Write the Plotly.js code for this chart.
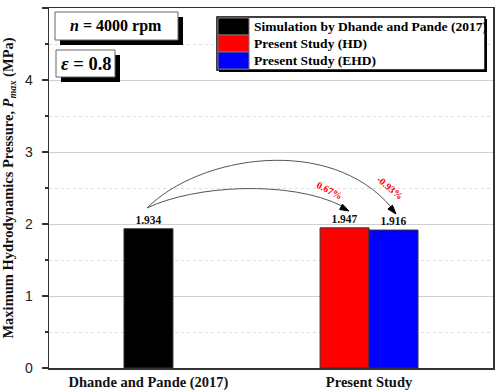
<!DOCTYPE html>
<html><head><meta charset="utf-8">
<script src="https://cdn.plot.ly/plotly-3.0.1.min.js"></script>
<style>html,body{margin:0;padding:0;background:#fff;}#chart{width:503px;height:390px;}</style>
</head><body><div id="chart"></div>
<script>
const categories = ["Dhande and Pande (2017)", "Present Study"];
const seriesNames = ["Simulation by Dhande and Pande (2017)", "Present Study (HD)", "Present Study (EHD)"];
const simValues = [1.934];
const hdValues = [1.947];
const ehdValues = [1.916];
const percentLabels = ["0.67%", "-0.93%"];
const seriesColors = ["#000000", "#ff0000", "#0000ff"];

const M = {l: 49, r: 10, t: 8, b: 22};
const W = 503, H = 390;
const PW = W - M.l - M.r, PH = H - M.t - M.b;
const px = x => (x - M.l) / PW;
const py = y => (H - M.b - y) / PH;

const serif = "Liberation Serif, Times New Roman, serif";
const barW = 0.222;

const traces = [
  {type: 'bar', x: [categories[0]], y: simValues, name: seriesNames[0], width: barW, offset: -barW/2,
   marker: {color: seriesColors[0], line: {color: '#333', width: 1}}},
  {type: 'bar', x: [categories[1]], y: hdValues, name: seriesNames[1], width: barW, offset: -barW,
   marker: {color: seriesColors[1], line: {color: '#333', width: 1}}},
  {type: 'bar', x: [categories[1]], y: ehdValues, name: seriesNames[2], width: barW, offset: 0,
   marker: {color: seriesColors[2], line: {color: '#333', width: 1}}}
].map(t => Object.assign(t, {
  texttemplate: '%{y:.3f}', textposition: 'outside', cliponaxis: false,
  textfont: {family: serif, size: 11.5, color: '#111', weight: 'bold'}, showlegend: false
}));

const shapes = [];
const annotations = [];
function note(x, y, text, font, extra) {
  annotations.push(Object.assign({xref: 'paper', yref: 'paper', x: px(x), y: py(y), xanchor: 'center', yanchor: 'middle',
    showarrow: false, text: text, font: font}, extra || {}));
}

// info boxes with shadows
function shadowBox(x0, y0, x1, y1, off, border) {
  shapes.push({type: 'rect', xref: 'paper', yref: 'paper', x0: px(x0 + off), x1: px(x1 + off), y0: py(y0 + off), y1: py(y1 + off),
    fillcolor: '#000', line: {width: 0}});
  shapes.push({type: 'rect', xref: 'paper', yref: 'paper', x0: px(x0), x1: px(x1), y0: py(y0), y1: py(y1),
    fillcolor: '#fff', line: {color: border, width: 1}});
}
shadowBox(55, 12, 178, 40, 5, '#666');
shadowBox(56, 50, 115, 77, 5, '#666');
note(116, 26, '<i>n</i> = 4000 rpm', {family: serif, size: 16, color: '#000', weight: 'bold'});
note(86, 64, '<i>ε</i> = 0.8', {family: serif, size: 18.5, color: '#000', weight: 'bold'});

// legend
shapes.push({type: 'rect', xref: 'paper', yref: 'paper', x0: px(219), x1: px(487), y0: py(19), y1: py(72),
  fillcolor: '#000', line: {width: 0}});
shapes.push({type: 'rect', xref: 'paper', yref: 'paper', x0: px(217), x1: px(485), y0: py(17), y1: py(70),
  fillcolor: '#fff', line: {color: '#000', width: 1.5}});
const rowTop = [18, 35, 52];
seriesNames.forEach((nm, i) => {
  shapes.push({type: 'rect', xref: 'paper', yref: 'paper', x0: px(218), x1: px(249), y0: py(rowTop[i]), y1: py(rowTop[i] + 17),
    fillcolor: seriesColors[i], line: {color: '#777', width: 1}});
  note(252, rowTop[i] + 8.5, nm, {family: serif, size: 13.5, color: '#000', weight: 'bold'}, {xanchor: 'left'});
});

// curved arrows
function pathStr(pts) {
  const p = pts.map(([x, y]) => px(x) + ',' + py(y));
  return 'M' + p[0] + ' C' + p[1] + ' ' + p[2] + ' ' + p[3];
}
function arrowHead(tip, from) {
  const dx = tip[0] - from[0], dy = tip[1] - from[1], L = Math.hypot(dx, dy);
  const ux = dx / L, uy = dy / L, len = 9, hw = 3;
  const bx = tip[0] - ux * len, by = tip[1] - uy * len;
  const a = [bx - uy * hw, by + ux * hw], b = [bx + uy * hw, by - ux * hw];
  shapes.push({type: 'path', xref: 'paper', yref: 'paper',
    path: 'M' + px(tip[0]) + ',' + py(tip[1]) + ' L' + px(a[0]) + ',' + py(a[1]) + ' L' + px(b[0]) + ',' + py(b[1]) + ' Z',
    fillcolor: '#000', line: {color: '#000', width: 1}});
}
shapes.push({type: 'path', xref: 'paper', yref: 'paper', path: pathStr([[147, 208], [195, 185], [290, 180], [342, 206]]),
  line: {color: '#555', width: 1}});
shapes.push({type: 'path', xref: 'paper', yref: 'paper', path: pathStr([[147, 208], [200, 155], [330, 135], [391, 207]]),
  line: {color: '#555', width: 1}});
arrowHead([349, 211], [290, 180]);
arrowHead([396, 214], [333, 140]);
note(330, 190, percentLabels[0], {family: serif, size: 10, color: '#ff0000', weight: 'bold'}, {textangle: 27});
note(390, 187, percentLabels[1], {family: serif, size: 10, color: '#ff0000', weight: 'bold'}, {textangle: 40});

const layout = {
  width: W, height: H, margin: M, paper_bgcolor: '#fff', plot_bgcolor: '#fff',
  barmode: 'overlay', showlegend: false,
  xaxis: {type: 'category', range: [-0.451, 1.562], showgrid: false, zeroline: false,
    showline: true, linecolor: '#333', linewidth: 1.5, mirror: true, ticks: '',
    tickfont: {family: serif, size: 14.5, color: '#111', weight: 'bold'}},
  yaxis: {range: [0, 5], dtick: 1, showgrid: true, gridcolor: '#cfcfcf', gridwidth: 1, zeroline: false,
    showline: true, linecolor: '#333', linewidth: 1.5, mirror: true, ticks: 'outside', ticklen: 6, tickwidth: 1.5, tickcolor: '#333',
    ticklabelstandoff: 6,
    tickfont: {family: 'Liberation Sans, Arial, sans-serif', size: 14, color: '#222'},
    minor: {dtick: 0.5, showgrid: true, gridcolor: '#dddddd', griddash: 'dot', gridwidth: 1, ticks: 'outside', ticklen: 3, tickcolor: '#333'},
    title: {text: 'Maximum Hydrodynamics Pressure, <i>P<sub>max</sub></i> (MPa)', standoff: 8,
      font: {family: serif, size: 14.5, color: '#111', weight: 'bold'}}},
  shapes: shapes, annotations: annotations
};
Plotly.newPlot('chart', traces, layout, {displayModeBar: false, staticPlot: true});
</script></body></html>
